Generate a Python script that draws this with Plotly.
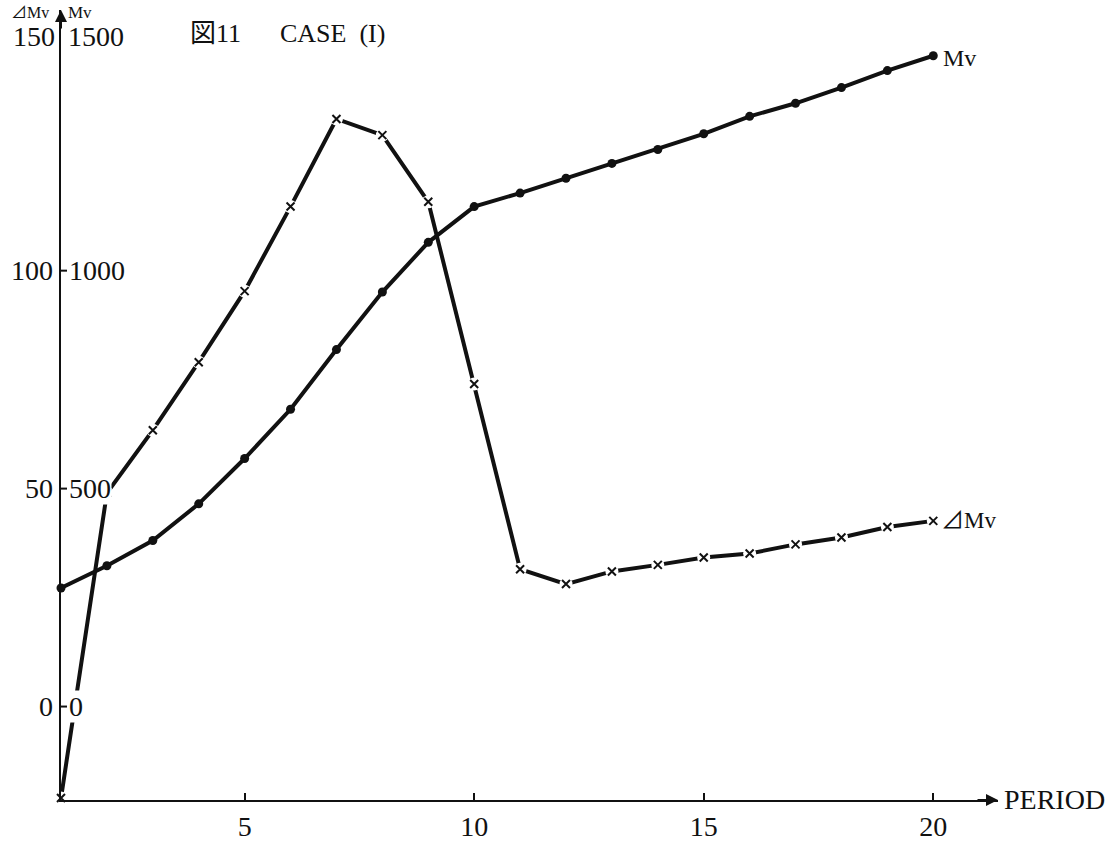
import plotly.graph_objects as go

# Period index and the two series (Mv on the right scale, ΔMv on the left scale)
period = list(range(1, 21))
mv = [272, 323, 381, 465, 569, 682, 819, 951, 1065, 1147,
      1178, 1212, 1246, 1278, 1314, 1354, 1384, 1420, 1459, 1493]
delta_mv = [-21, 49, 63.4, 79, 95.3, 114.7, 134.8, 131.1, 115.8, 74.0,
            31.5, 28.1, 31.0, 32.5, 34.2, 35.1, 37.2, 38.8, 41.2, 42.6]

# Axis ticks and labels
x_ticks = [5, 10, 15, 20]
left_ticks = [0, 50, 100]
right_ticks = [0, 500, 1000]
left_top, right_top = 150, 1500

Y_MIN, Y_MAX = -21.44, 159.8
X_MIN, X_MAX = 1, 21.41
SERIF = "Liberation Serif, Noto Sans CJK JP, serif"
INK = "#111111"

fig = go.Figure()

# Mv curve on the secondary (x10) scale
fig.add_trace(go.Scatter(
    x=period, y=mv, yaxis="y2", mode="lines+markers",
    line=dict(color=INK, width=4),
    marker=dict(symbol="circle", size=9, color=INK),
    showlegend=False, cliponaxis=False))

# ΔMv curve: line, white gaps around the crosses, then the crosses
fig.add_trace(go.Scatter(
    x=period, y=delta_mv, mode="lines",
    line=dict(color=INK, width=4), showlegend=False, cliponaxis=False))
fig.add_trace(go.Scatter(
    x=period, y=delta_mv, mode="markers",
    marker=dict(symbol="circle", size=13, color="white"),
    showlegend=False, cliponaxis=False))
fig.add_trace(go.Scatter(
    x=period, y=delta_mv, mode="markers",
    marker=dict(symbol="x-thin-open", size=8, color=INK,
                line=dict(color=INK, width=2)),
    showlegend=False, cliponaxis=False))

ann = []
shapes = []
NUM = dict(family=SERIF, size=28, color=INK)

# y tick labels on both sides of the axis, with a tick crossing it
for lv, rv in zip(left_ticks, right_ticks):
    ann.append(dict(x=X_MIN, y=lv, xref="x", yref="y", text=str(lv),
                    xanchor="right", yanchor="middle", xshift=-6,
                    showarrow=False, font=NUM))
    ann.append(dict(x=X_MIN, y=rv, xref="x", yref="y2", text=str(rv),
                    xanchor="left", yanchor="middle", xshift=7,
                    bgcolor="white", borderpad=0,
                    showarrow=False, font=NUM))
    shapes.append(dict(type="line", xref="x", yref="y", xsizemode="pixel",
                       xanchor=X_MIN, x0=-5, x1=6, y0=lv, y1=lv,
                       line=dict(color=INK, width=2)))

# Headers at the top of the vertical axis
ann.append(dict(x=X_MIN, y=left_top, xref="x", yref="y", text=str(left_top),
                xanchor="right", yanchor="middle", xshift=-4, yshift=16,
                showarrow=False, font=NUM))
ann.append(dict(x=X_MIN, y=right_top, xref="x", yref="y2", text=str(right_top),
                xanchor="left", yanchor="middle", xshift=5, yshift=16,
                showarrow=False, font=NUM))
ann.append(dict(x=X_MIN, y=left_top, xref="x", yref="y", text="⊿Mv",
                xanchor="right", yanchor="middle", xshift=-10, yshift=40,
                showarrow=False, font=dict(family=SERIF, size=16, color=INK)))
ann.append(dict(x=X_MIN, y=right_top, xref="x", yref="y2", text="Mv",
                xanchor="left", yanchor="middle", xshift=5, yshift=40,
                showarrow=False, font=dict(family=SERIF, size=17, color=INK)))

# Title text
ann.append(dict(x=188, y=34, xref="paper", yref="paper", text="図11",
                showarrow=False, font=dict(family=SERIF, size=26, color=INK)))
ann.append(dict(x=278, y=34, xref="paper", yref="paper",
                text="CASE\u00a0\u00a0(I)",
                showarrow=False, font=dict(family=SERIF, size=26, color=INK)))

# Series labels at the last period
ann.append(dict(x=period[-1], y=mv[-1], xref="x", yref="y2", text="Mv",
                xanchor="left", yanchor="middle", xshift=8, yshift=-2,
                showarrow=False, font=dict(family=SERIF, size=24, color=INK)))
ann.append(dict(x=period[-1], y=delta_mv[-1], xref="x", yref="y", text="⊿Mv",
                xanchor="left", yanchor="middle", xshift=6,
                showarrow=False, font=dict(family=SERIF, size=23, color=INK)))

# Axis arrows and the PERIOD caption
ann.append(dict(x=X_MAX, y=Y_MIN, xref="x", yref="y", ax=-22, ay=0,
                showarrow=True, arrowhead=2, arrowsize=1.2, arrowwidth=2,
                arrowcolor=INK, text=""))
ann.append(dict(x=X_MIN, y=Y_MAX, xref="x", yref="y", ax=0, ay=20,
                showarrow=True, arrowhead=2, arrowsize=1.2, arrowwidth=2,
                arrowcolor=INK, text=""))
ann.append(dict(x=X_MAX, y=Y_MIN, xref="x", yref="y", text="PERIOD",
                xanchor="left", yanchor="middle", xshift=4, yshift=1,
                showarrow=False, font=dict(family=SERIF, size=28, color=INK)))

# Convert pixel-positioned title texts into paper coordinates
W, H = 1115, 852
M = dict(l=61, r=117, t=10, b=39)
pw, ph = W - M["l"] - M["r"], H - M["t"] - M["b"]
for a in ann:
    if a.get("xref") == "paper":
        a["x"] = (a["x"] - M["l"]) / pw
        a["y"] = 1 - (a["y"] - M["t"]) / ph
        a["xanchor"] = "left"
        a["yanchor"] = "middle"

fig.update_layout(
    width=W, height=H, margin=M,
    paper_bgcolor="white", plot_bgcolor="white",
    xaxis=dict(range=[X_MIN, X_MAX], showgrid=False, zeroline=False,
               showline=True, linecolor=INK, linewidth=2,
               tickvals=x_ticks, ticks="inside", ticklen=7, tickwidth=2,
               tickcolor=INK, tickfont=NUM),
    yaxis=dict(range=[Y_MIN, Y_MAX], showgrid=False, zeroline=False,
               showline=True, linecolor=INK, linewidth=2,
               showticklabels=False, ticks=""),
    yaxis2=dict(range=[Y_MIN * 10, Y_MAX * 10], overlaying="y", side="left",
                showgrid=False, zeroline=False, showline=False,
                showticklabels=False, ticks=""),
    annotations=ann, shapes=shapes,
)

fig.write_html("out.html")
